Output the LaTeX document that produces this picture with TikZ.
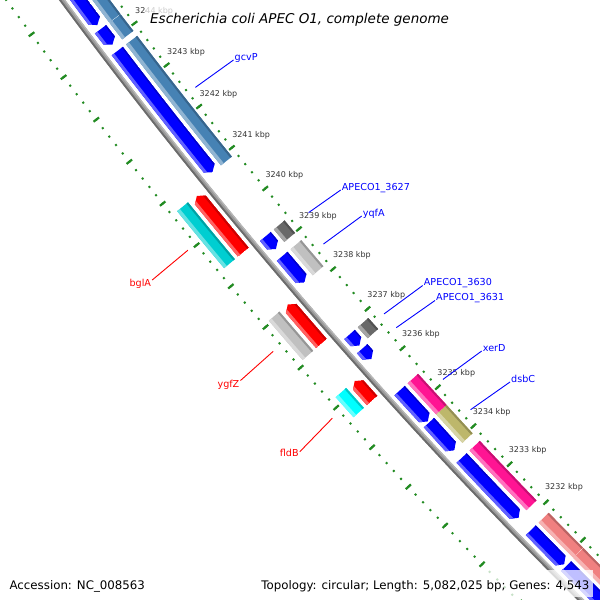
\documentclass[tikz,border=0pt]{standalone}
\usepackage{fontspec}
\setmainfont{DejaVu Sans}
\usepackage{tikz}

\definecolor{cdsblue}{HTML}{0000FF}
\definecolor{cdsred}{HTML}{FF0000}
\definecolor{steel}{HTML}{4682B4}
\definecolor{dimgr}{HTML}{696969}
\definecolor{silv}{HTML}{C0C0C0}
\definecolor{deeppk}{HTML}{FF1493}
\definecolor{khak}{HTML}{BDB76B}
\definecolor{lcoral}{HTML}{F08080}
\definecolor{dturq}{HTML}{00CED1}
\definecolor{aqua}{HTML}{00FFFF}
\definecolor{tickgreen}{HTML}{228B22}
\definecolor{bbgray}{HTML}{9A9A9A}

% position on the map: #1 = kbp, #2 = offset from backbone (towards centre)
\newcommand{\gang}[1]{(-136.43-0.58*(#1-3233))}
\newcommand{\gpt}[2]{({\gang{#1}}:{5245-(#2)})}
\newcommand{\gband}[4]{\gpt{#1}{#3} arc[start angle={\gang{#1}}, end angle={\gang{#2}}, radius={5245-(#3)}] -- \gpt{#2}{#4} arc[start angle={\gang{#2}}, end angle={\gang{#1}}, radius={5245-(#4)}] -- cycle}

\newcommand{\genebox}[5]{%
  \fill[#5] \gband{#1}{#2}{#3}{#4};
  \fill[#5!60!white] \gband{#1}{#2}{#3}{#3+3.5};
  \fill[#5!78!black] \gband{#1}{#2}{#4-2}{#4};}

\newcommand{\revcds}[2]{%
  \begin{scope}
    \clip \gpt{#1}{6.5} arc[start angle={\gang{#1}}, end angle={\gang{#2+0.1}}, radius=5238.5] -- \gpt{#2}{13.5} -- \gpt{#2+0.1}{20.5} arc[start angle={\gang{#2+0.1}}, end angle={\gang{#1}}, radius=5224.5] -- cycle;
    \fill[cdsblue] \gband{#1}{#2}{6}{21};
    \fill[cdsblue!62!white] \gband{#1}{#2}{6}{9.5};
    \fill[cdsblue!80!black] \gband{#1}{#2}{19}{21};
  \end{scope}}

\newcommand{\fwdcds}[2]{%
  \begin{scope}
    \clip \gpt{#1-0.1}{-20.5} arc[start angle={\gang{#1-0.1}}, end angle={\gang{#2}}, radius=5265.5] -- \gpt{#2}{-6.5} arc[start angle={\gang{#2}}, end angle={\gang{#1-0.1}}, radius=5251.5] -- \gpt{#1}{-13.5} -- cycle;
    \fill[cdsred] \gband{#1}{#2}{-21}{-6};
    \fill[cdsred!62!white] \gband{#1}{#2}{-21}{-17.5};
    \fill[cdsred!80!black] \gband{#1}{#2}{-8.5}{-6};
  \end{scope}}

\begin{document}
\begin{tikzpicture}[x=1pt, y=1pt,
  ticklab/.style={font=\fontsize{8}{9}\selectfont, text=black!80, inner sep=0pt},
  blab/.style={font=\fontsize{9.6}{11}\selectfont, text=cdsblue, inner sep=1pt},
  rlab/.style={font=\fontsize{9.6}{11}\selectfont, text=cdsred, inner sep=1pt},
  bline/.style={cdsblue, line width=0.9pt},
  rline/.style={cdsred, line width=0.9pt}]

\useasboundingbox (0,0) rectangle (600,-600);
\clip (0,0) rectangle (600,-600);

\begin{scope}[shift={(4277.7,3120.3)}]
  % backbone
  \fill[bbgray] \gband{3247}{3228}{-2.5}{2.5};
  \fill[black!58] \gband{3247}{3228}{-2.5}{-0.7};
  \fill[black!28] \gband{3247}{3228}{1.3}{2.5};

  % tick rings
  \foreach \k in {0,...,95} {
    \pgfmathsetmacro{\kp}{3228+0.2*\k}
    \draw[tickgreen, line width=2pt] \gpt{\kp}{43} -- \gpt{\kp}{45};
    \draw[tickgreen, line width=2pt] \gpt{\kp}{-44} -- \gpt{\kp}{-46};
  }
  \foreach \k in {3228,...,3247} {
    \draw[tickgreen, line width=2.2pt] \gpt{\k}{40.5} -- \gpt{\k}{47.5};
    \draw[tickgreen, line width=2.2pt] \gpt{\k}{-41.5} -- \gpt{\k}{-48.5};
  }
  \foreach \k in {3232,...,3244}
    \path \gpt{\k-0.04}{67} node[ticklab] {\k\ kbp};

  % genes, inner ring
  \genebox{3246.5}{3244.305}{24.5}{38.5}{steel}
  \genebox{3244.295}{3243.90}{24.5}{38.5}{steel}
  \genebox{3243.78}{3240.87}{24.5}{38.5}{steel}
  \genebox{3239.30}{3238.99}{24.5}{38.5}{dimgr}
  \genebox{3238.81}{3238.16}{24.5}{38.5}{silv}
  \genebox{3236.86}{3236.58}{24.5}{38.5}{dimgr}
  \genebox{3235.44}{3234.64}{24.5}{38.5}{deeppk}
  \genebox{3234.64}{3233.91}{24.5}{38.5}{khak}
  \genebox{3233.71}{3232.15}{24.5}{38.5}{deeppk}
  \genebox{3231.82}{3230.895}{24.5}{38.5}{lcoral}
  \genebox{3230.885}{3228}{24.5}{38.5}{lcoral}

  % CDS, reverse strand
  \revcds{3246.5}{3244.40}
  \revcds{3244.30}{3243.93}
  \revcds{3243.78}{3240.87}
  \revcds{3239.30}{3238.99}
  \revcds{3238.81}{3238.16}
  \revcds{3236.86}{3236.58}
  \revcds{3236.50}{3236.24}
  \revcds{3235.44}{3234.65}
  \revcds{3234.62}{3233.91}
  \revcds{3233.71}{3232.15}
  \revcds{3231.82}{3230.92}
  \revcds{3230.87}{3228}

  % CDS and genes, outer ring
  \fwdcds{3240.71}{3239.34}
  \fwdcds{3238.05}{3237.08}
  \fwdcds{3236.14}{3235.65}
  \genebox{3240.72}{3239.34}{-38.5}{-24.5}{dturq}
  \genebox{3238.05}{3237.08}{-38.5}{-24.5}{silv}
  \genebox{3236.15}{3235.65}{-38.5}{-24.5}{aqua}

  % label anchors
  \path \gpt{3242.33}{53} coordinate (sgcvP);
  \path \gpt{3239.12}{62} coordinate (s3627);
  \path \gpt{3238.48}{53} coordinate (syqfA);
  \path \gpt{3236.72}{53} coordinate (s3630);
  \path \gpt{3236.37}{53} coordinate (s3631);
  \path \gpt{3235.045}{53} coordinate (sxerD);
  \path \gpt{3234.265}{53} coordinate (sdsbC);
  \path \gpt{3240.03}{-55} coordinate (sbglA);
  \path \gpt{3237.565}{-55} coordinate (sygfZ);
  \path \gpt{3235.9}{-55} coordinate (sfldB);
\end{scope}

\node[blab, anchor=base west] (lgcvP) at (233.5,-60) {gcvP};
\node[blab, anchor=base west] (l3627) at (340.7,-190) {APECO1\_3627};
\node[blab, anchor=base west] (lyqfA) at (361.7,-216) {yqfA};
\node[blab, anchor=base west] (l3630) at (422.7,-285.5) {APECO1\_3630};
\node[blab, anchor=base west] (l3631) at (435,-300.5) {APECO1\_3631};
\node[blab, anchor=base west] (lxerD) at (481.7,-351) {xerD};
\node[blab, anchor=base west] (ldsbC) at (510,-382) {dsbC};
\draw[bline] (sgcvP) -- (lgcvP.base west);
\draw[bline] (s3627) -- (l3627.base west);
\draw[bline] (syqfA) -- (lyqfA.base west);
\draw[bline] (s3630) -- (l3630.base west);
\draw[bline] (s3631) -- (l3631.base west);
\draw[bline] (sxerD) -- (lxerD.base west);
\draw[bline] (sdsbC) -- (ldsbC.base west);

\node[rlab, anchor=base east] (lbglA) at (152.2,-286) {bglA};
\node[rlab, anchor=base east] (lygfZ) at (240.5,-387.5) {ygfZ};
\node[rlab, anchor=base east] (lfldB) at (299.8,-456.7) {fldB};
\draw[rline] (sbglA) -- ([yshift=6pt]lbglA.base east);
\draw[rline] (sygfZ) -- ([yshift=7pt]lygfZ.base east);
\draw[rline] (sfldB) -- ([yshift=5pt]lfldB.base east);

% title and legend
\fill[white, opacity=0.75] (146,-3) rectangle (454,-31);
\node[anchor=base west, inner sep=0pt, font=\fontsize{13.5}{16}\selectfont\itshape] (title) at (150,-23) {Escherichia coli APEC O1, complete genome};
\fill[white, opacity=0.75] (256,-570) rectangle (593,-597);
\node[anchor=base west, inner sep=0pt, font=\fontsize{11.8}{14}\selectfont] (acc) at (9.4,-589) {Accession: NC\_008563};
\node[anchor=base east, inner sep=0pt, font=\fontsize{11.8}{14}\selectfont] (topo) at (589.5,-589) {Topology: circular; Length: 5,082,025 bp; Genes: 4,543};
\end{tikzpicture}
\end{document}
